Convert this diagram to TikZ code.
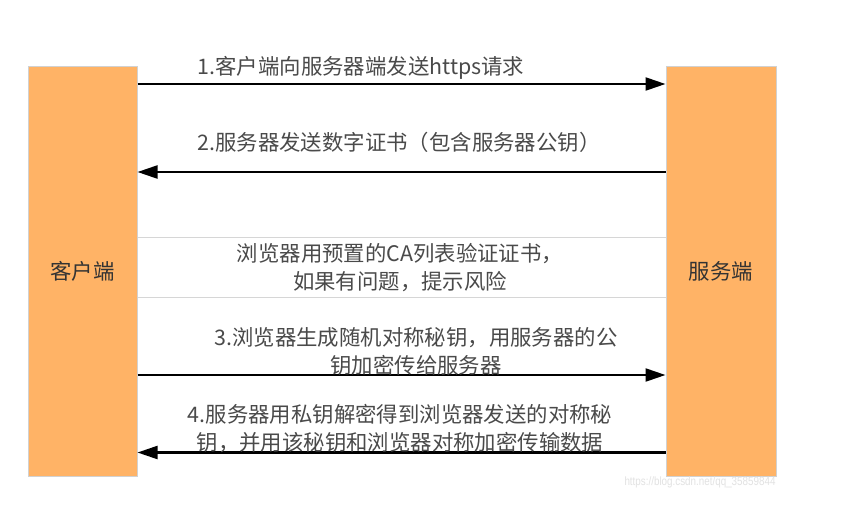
\documentclass[tikz,border=0pt]{standalone}
\usepackage{fontspec}
\setmainfont{Noto Sans CJK SC}
\newfontfamily\wmfont{Liberation Sans}
\usetikzlibrary{arrows.meta}
\definecolor{boxorange}{HTML}{FFB366}
\definecolor{txtgrey}{HTML}{4A4A4A}
\definecolor{sepgrey}{HTML}{D6D6D6}
\definecolor{wmgrey}{HTML}{E2E2E2}
\begin{document}
\begin{tikzpicture}[x=1pt,y=-1pt,
  party/.style={draw=black!18, line width=1pt, fill=boxorange, text=black!80,
    font=\fontsize{21.4}{26}\selectfont, inner sep=0pt},
  msg/.style={text=txtgrey, font=\fontsize{21.4}{28}\selectfont, align=center, inner sep=0pt},
  arr/.style={line width=2.2pt, -{Triangle[length=20pt,width=13pt]}},
  sepline/.style={draw=sepgrey, line width=1.5pt}]
\useasboundingbox (0,0) rectangle (859,515);
\fill[white] (0,0) rectangle (859,515);
% parties
\node[party, minimum width=109pt, minimum height=410pt] (cl) at (82.5,271) {客户端};
\node[party, minimum width=110pt, minimum height=410pt] (sv) at (721,271) {服务端};
% helper heights
\coordinate (y1) at (0,84);
\coordinate (y2) at (0,172);
\coordinate (s1) at (0,237.5);
\coordinate (s2) at (0,297.5);
\coordinate (y3) at (0,375);
\coordinate (y4) at (0,452.5);
% separators
\draw[sepline] (cl.east |- s1) -- (sv.west |- s1);
\draw[sepline] (cl.east |- s2) -- (sv.west |- s2);
% arrows
\draw[arr] (cl.east |- y1) -- (sv.west |- y1);
\draw[arr] (sv.west |- y2) -- (cl.east |- y2);
\draw[arr] (cl.east |- y3) -- (sv.west |- y3);
\draw[arr] (sv.west |- y4) -- (cl.east |- y4);
% labels
\node[msg] (m1) at (361,68) {1.客户端向服务器端发送https请求};
\node[msg] (m2) at (399,142) {2.服务器发送数字证书（包含服务器公钥）};
\node[msg] (m0) at (400,268) {浏览器用预置的CA列表验证证书，\\如果有问题，提示风险};
\node[msg] (m3) at (416,351) {3.浏览器生成随机对称秘钥，用服务器的公\\钥加密传给服务器};
\node[msg] (m4) at (400,429) {4.服务器用私钥解密得到浏览器发送的对称秘\\钥，并用该秘钥和浏览器对称加密传输数据};
% watermark
\node[text=wmgrey, font=\wmfont\fontsize{12}{12}\selectfont, xscale=0.82, inner sep=0pt] (wm) at (700,482) {https://blog.csdn.net/qq\_35859844};
\end{tikzpicture}
\end{document}
